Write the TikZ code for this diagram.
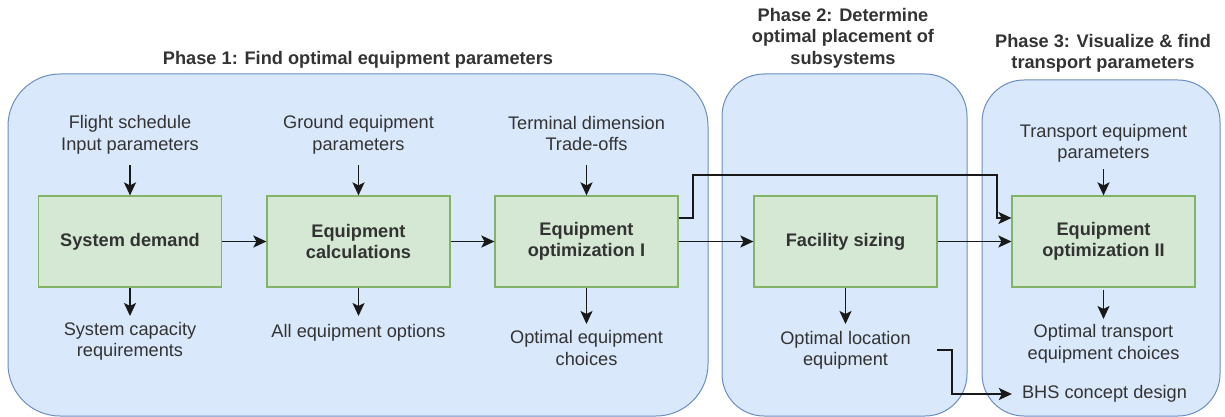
\documentclass[tikz,border=0pt]{standalone}
\usepackage{fontspec}
\setmainfont{Liberation Sans}
\usetikzlibrary{arrows.meta}
\definecolor{phasefill}{HTML}{DAE8FC}
\definecolor{phaseline}{HTML}{6C8EBF}
\definecolor{stepfill}{HTML}{D5E8D4}
\definecolor{stepline}{HTML}{82B366}
\definecolor{txt}{HTML}{333333}

\begin{document}
\begin{tikzpicture}[x=1pt,y=-1pt,
  phase/.style={draw=phaseline, fill=phasefill, line width=1pt},
  stepbox/.style={draw=stepline, fill=stepfill, line width=1.2pt,
    minimum width=183pt, minimum height=91pt, inner sep=0pt, align=center,
    font=\fontsize{18.2}{21.5}\selectfont\bfseries, text=txt},
  lbl/.style={align=center, font=\fontsize{18.2}{21.5}\selectfont, text=txt, inner sep=0pt},
  ttl/.style={align=center, font=\fontsize{18.2}{21.5}\selectfont\bfseries, text=txt, inner sep=0pt},
  flow/.style={draw=black!90, line width=1.8pt,
    -{Stealth[length=13pt,width=12pt,inset=3pt]}}]

\useasboundingbox (0,0) rectangle (1225,417);

% phase containers
\draw[phase, rounded corners=52pt] (8,74) rectangle (708,416) ;
\draw[phase, rounded corners=42pt] (722,74) rectangle (967,416);
\draw[phase, rounded corners=42pt] (982,80) rectangle (1220,416);

% phase titles
\node[ttl] (t1) at (358,60) {Phase 1: Find optimal equipment parameters};
\node[ttl] (t2) at (843,38) {Phase 2: Determine\\optimal placement of\\subsystems};
\node[ttl] (t3) at (1103,53.5) {Phase 3: Visualize \& find\\transport parameters};

% process steps
\node[stepbox] (sd)  at (130,241.5)   {System demand};
\node[stepbox] (ec)  at (358.5,241.5) {Equipment\\calculations};
\node[stepbox] (eo1) at (586.5,241.5) {Equipment\\optimization I};
\node[stepbox] (fs)  at (845.5,241.5) {Facility sizing};
\node[stepbox] (eo2) at (1103.5,241.5) {Equipment\\optimization II};

% inputs
\node[lbl] (in1) at (130,135)    {Flight schedule\\Input parameters};
\node[lbl] (in2) at (358.5,135)  {Ground equipment\\parameters};
\node[lbl] (in3) at (586.5,133.5){Terminal dimension\\Trade-offs};
\node[lbl] (in5) at (1103.5,143.5){Transport equipment\\parameters};

% outputs
\node[lbl] (out1) at (130,341.5)   {System capacity\\requirements};
\node[lbl] (out2) at (358.5,333)   {All equipment options};
\node[lbl] (out3) at (586.5,348)   {Optimal equipment\\choices};
\node[lbl] (out4) at (845.5,350.5) {Optimal location\\equipment};
\node[lbl] (out5) at (1103.5,344)  {Optimal transport\\equipment choices};
\node[lbl] (bhs)  at (1104.5,394)  {BHS concept design};

% arrow ends
\coordinate (a1) at (130,165);
\coordinate (a2) at (358.5,165);
\coordinate (a3) at (586.5,165);
\coordinate (a5) at (1103.5,169);
\coordinate (b1) at (130,316);
\coordinate (b2) at (358.5,316);
\coordinate (b3) at (586.5,324);
\coordinate (b4) at (845.5,324);
\coordinate (b5) at (1103.5,319);
\coordinate (bs) at (937,350);

% input and output arrows
\draw[flow] (a1) -- (sd.north);
\draw[flow] (a2) -- (ec.north);
\draw[flow] (a3) -- (eo1.north);
\draw[flow] (a5) -- (eo2.north);
\draw[flow] (sd.south) -- (b1);
\draw[flow] (ec.south) -- (b2);
\draw[flow] (eo1.south) -- (b3);
\draw[flow] (fs.south) -- (b4);
\draw[flow] ([yshift=-2pt]eo2.south) -- (b5);

% main flow
\draw[flow] (sd) -- (ec);
\draw[flow] (ec) -- (eo1);
\draw[flow] (eo1) -- (fs);
\draw[flow] (fs) -- (eo2);

% bypass of facility sizing
\draw[flow] ([yshift=23.5pt]eo1.east) -- (693,218) -- (693,175) -- (997,175) -- (997,218)
  -- ([yshift=23.5pt]eo2.west);

% to concept design
\draw[flow] (bs) -- (952,350) -- (952,394) -- ([xshift=-10pt]bhs.west);
\end{tikzpicture}
\end{document}
